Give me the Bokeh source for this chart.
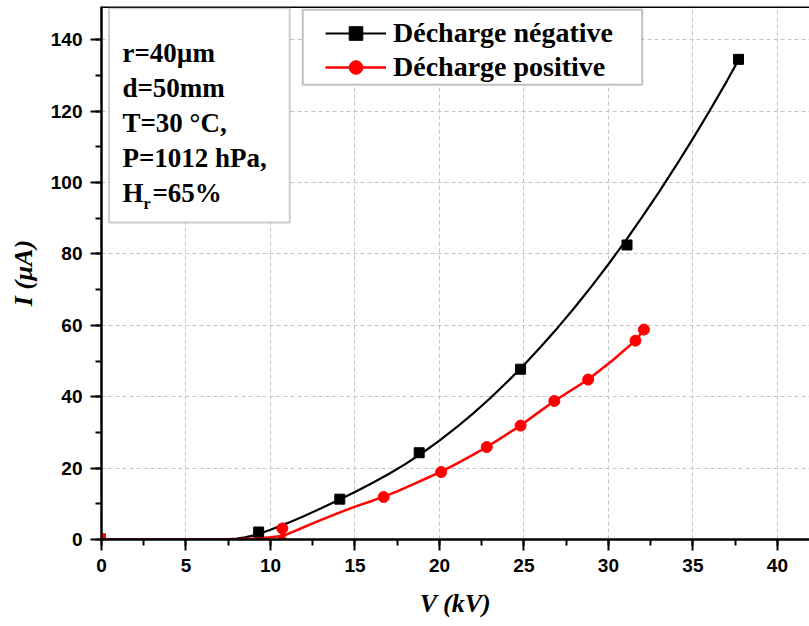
from bokeh.plotting import figure
from bokeh.embed import file_html
from bokeh.resources import INLINE
from bokeh.models import (BoxAnnotation, Label, Legend, LegendItem, Span,
                          Range1d, SingleIntervalTicker)

# ---- data ----
neg_v = [9.3, 14.1, 18.8, 24.8, 31.1, 37.7]
neg_i = [2.1, 11.3, 24.3, 47.7, 82.5, 134.5]

pos_v = [10.7, 16.7, 20.1, 22.8, 24.8, 26.8, 28.8, 31.6, 32.1]
pos_i = [3.1, 11.9, 18.9, 25.9, 31.9, 38.8, 44.8, 55.7, 58.8]

pos_tri_v = [10.7]
pos_tri_i = [0.5]
origin_v = [0.0]
origin_i = [0.5]

# fitted curves
neg_fit_v = [0, 6, 7, 7.5, 8, 8.5, 9, 9.5, 10, 11, 12, 13, 14, 15, 16, 17,
             18, 19, 20, 21, 22, 23, 24, 25, 26, 27, 28, 29, 30, 31, 32, 33,
             34, 35, 36, 37, 37.7]
neg_fit_i = [0, 0.0, 0.03, 0.1, 0.28, 0.6, 1.15, 1.9, 2.73, 4.58, 6.58, 8.73,
             10.98, 13.33, 15.78, 18.34, 21.18, 24.3, 27.7, 31.38, 35.34,
             39.58, 44.1, 48.9, 53.98, 59.34, 64.98, 70.9, 77.1, 83.58, 90.34,
             97.38, 104.7, 112.3, 120.18, 128.34, 134.3]
pos_fit_v = [0, 6, 8, 9, 9.5, 10, 10.7, 11, 11.5, 12, 12.5, 13, 14, 15, 16,
             16.7, 17.5, 18.5, 19.3, 20.1, 21, 22, 22.8, 23.8, 24.8, 25.8,
             26.8, 27.8, 28.8, 30.2, 31.6, 32.1]
pos_fit_i = [0, 0.02, 0.1, 0.25, 0.4, 0.6, 1.0, 1.5, 2.5, 3.5, 4.5, 5.5, 7.4,
             9.2, 10.8, 12.0, 13.5, 15.6, 17.3, 19.0, 21.2, 23.8, 25.9, 28.9,
             31.9, 35.4, 38.8, 41.8, 44.8, 50.0, 55.7, 58.8]

info_lines = ["r=40µm", "d=50mm", "T=30 °C,", "P=1012 hPa,"]
legend_labels = ["Décharge négative", "Décharge positive"]

SERIF = "Liberation Serif"
SANS = "Liberation Sans"

p = figure(width=809, height=626, x_range=Range1d(0, 41.9),
           y_range=Range1d(0, 149.3), output_backend="svg",
           toolbar_location=None, min_border_left=101, min_border_right=0,
           min_border_top=6, min_border_bottom=87)
p.outline_line_color = None
p.background_fill_color = "white"

p.xaxis.ticker = SingleIntervalTicker(interval=5, num_minor_ticks=2)
p.yaxis.ticker = SingleIntervalTicker(interval=20, num_minor_ticks=2)
for ax in (p.xaxis, p.yaxis):
    ax.axis_line_width = 2.5
    ax.major_tick_line_width = 2
    ax.minor_tick_line_width = 2
    ax.major_tick_in = 0
    ax.major_tick_out = 11
    ax.minor_tick_in = 0
    ax.minor_tick_out = 6
    ax.major_label_text_font = SANS
    ax.major_label_text_font_style = "bold"
    ax.major_label_text_font_size = "19px"
    ax.major_label_text_color = "black"
    ax.major_label_standoff = 8
    ax.axis_label_text_font = SERIF
    ax.axis_label_text_font_style = "bold italic"
    ax.axis_label_text_color = "black"
p.xaxis.axis_label = "V (kV)"
p.xaxis.axis_label_text_font_size = "26px"
p.xaxis.axis_label_standoff = 14
p.yaxis.axis_label = "I (µA)"
p.yaxis.axis_label_text_font_size = "26px"
p.yaxis.axis_label_standoff = 10

for g in (p.xgrid, p.ygrid):
    g.grid_line_color = "#c4c4c4"
    g.grid_line_dash = "4 3"
    g.grid_line_width = 1

p.add_layout(Span(location=149.3, dimension="width", line_color="black",
                  line_width=3))

# info box
p.add_layout(BoxAnnotation(left=0.45, right=11.14, bottom=88.8, top=148.9,
                           fill_color="white", fill_alpha=1,
                           line_color="#555555", line_width=2))
baselines = [136.2, 126.4, 116.6, 106.8]
for txt, yb in zip(info_lines, baselines):
    p.add_layout(Label(x=1.24, y=yb, text=txt, text_font=SERIF,
                       text_font_style="bold", text_font_size="27px",
                       text_baseline="alphabetic", text_color="black"))
p.add_layout(Label(x=1.24, y=97.0, text="H", text_font=SERIF,
                   text_font_style="bold", text_font_size="27px",
                   text_baseline="alphabetic", text_color="black"))
p.add_layout(Label(x=1.24, y=97.0, x_offset=21, y_offset=-10, text="r",
                   text_font=SERIF, text_font_style="bold",
                   text_font_size="16px", text_baseline="alphabetic",
                   text_color="black"))
p.add_layout(Label(x=1.24, y=97.0, x_offset=30, text="=65%", text_font=SERIF,
                   text_font_style="bold", text_font_size="27px",
                   text_baseline="alphabetic", text_color="black"))

# legend box
p.add_layout(BoxAnnotation(left=11.91, right=32.0, bottom=127.4, top=148.4,
                           fill_color="white", fill_alpha=1,
                           line_color="#333333", line_width=2))

# curves and points
nl = p.line(neg_fit_v, neg_fit_i, line_color="black", line_width=2.2)
pl = p.line(pos_fit_v, pos_fit_i, line_color="#ff0000", line_width=2.5)
ns = p.scatter(neg_v, neg_i, marker="square", size=10, color="black")
ps = p.scatter(pos_v, pos_i, marker="circle", size=11, color="#ff0000")
p.scatter(pos_tri_v, pos_tri_i, marker="triangle", size=10, color="#ff0000")
p.scatter(origin_v, origin_i, marker="square", size=8, color="#ff0000")

legend = Legend(items=[LegendItem(label=legend_labels[0], renderers=[nl, ns]),
                       LegendItem(label=legend_labels[1], renderers=[pl, ps])],
                location=(224, 455), orientation="vertical",
                border_line_color=None, background_fill_alpha=0,
                padding=0, margin=0, spacing=0, glyph_width=61,
                glyph_height=34, label_height=34, label_standoff=7,
                label_text_font=SERIF, label_text_font_style="bold",
                label_text_font_size="28px", label_text_color="black")
p.add_layout(legend)

open("out.html", "w").write(file_html(p, INLINE))
